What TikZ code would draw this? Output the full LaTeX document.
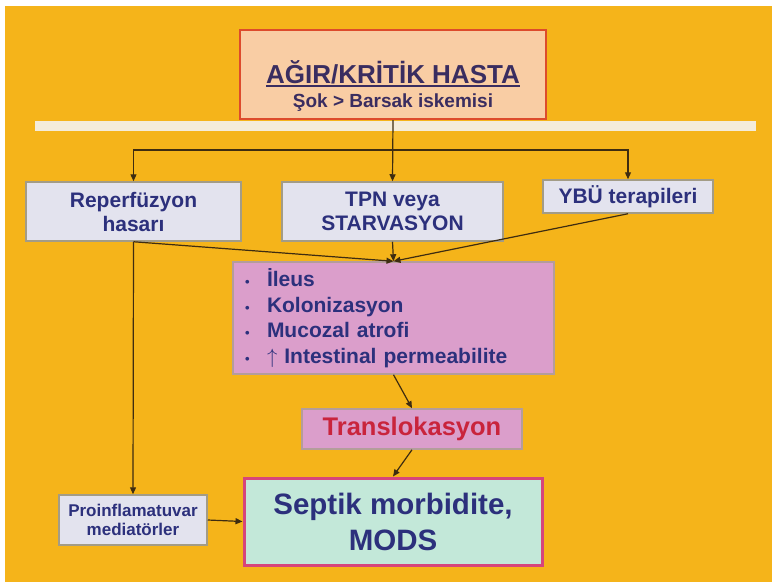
\documentclass[tikz,border=0pt]{standalone}
\usepackage{fontspec}
\setmainfont{Liberation Sans}
\usepackage{xcolor}
\usepackage{tikz}
\usetikzlibrary{arrows.meta}

\definecolor{bgorange}{HTML}{F5B41A}
\definecolor{barcream}{HTML}{F4ECDA}
\definecolor{peach}{HTML}{F9CDA4}
\definecolor{redline}{HTML}{DD4B2C}
\definecolor{lavender}{HTML}{E3E3EE}
\definecolor{greyline}{HTML}{A39C86}
\definecolor{orchid}{HTML}{DB9ECB}
\definecolor{mint}{HTML}{C3E8D9}
\definecolor{magentaline}{HTML}{D6457B}
\definecolor{navytext}{HTML}{2C307C}
\definecolor{titletext}{HTML}{3A2D60}
\definecolor{redtext}{HTML}{C9243C}
\definecolor{wire}{HTML}{3E2C10}

\newcommand{\blt}{\makebox[22pt][l]{\fontsize{13}{13}\selectfont\textbullet}}
\newcommand{\thickul}[1]{\setbox0\hbox{#1}\rlap{\rule[-3.5pt]{\wd0}{1.8pt}}\box0}

\begin{document}
\begin{tikzpicture}[x=1pt, y=-1pt,
    topbox/.style={draw=redline, line width=2pt, fill=peach, minimum width=306pt, minimum height=89pt},
    greybox/.style={draw=greyline, line width=1.5pt, fill=lavender, text=navytext, align=center, inner sep=0pt, font=\bfseries\fontsize{21}{24}\selectfont},
    pinkbox/.style={draw=greyline!70!orchid, line width=1.5pt, fill=orchid, inner sep=0pt},
    septbox/.style={draw=magentaline, line width=3pt, fill=mint, text=navytext, align=center, inner sep=0pt, font=\bfseries\fontsize{29.5}{36}\selectfont},
    conn/.style={wire, line width=1.2pt, -{Triangle[length=7pt, width=6pt]}}
]
% ---- Background ----
\useasboundingbox (0,0) rectangle (772,582);
\fill[white] (0,0) rectangle (772,582);
\fill[bgorange] (5,6) rectangle (772,582);
\fill[barcream] (35,121) rectangle (756,131);

% ---- Patient (top) ----
\node[topbox] (hasta) at (393,74.5) {};
\node[text=titletext, align=center, font=\bfseries\fontsize{26}{24}\selectfont] (hastatext) at (393,86)
    {\thickul{AĞIR/KRİTİK HASTA}\\{\fontsize{19}{24}\selectfont Şok > Barsak iskemisi}};

% ---- Causes ----
\node[greybox, minimum width=215pt, minimum height=59pt] (reperfuzyon) at (133.5,211.5) {Reperfüzyon\\hasarı};
\node[greybox, minimum width=221pt, minimum height=59pt] (tpn) at (392.5,211.5) {TPN veya\\STARVASYON};
\node[greybox, minimum width=170pt, minimum height=33pt] (ybu) at (628,196.5) {YBÜ terapileri};

% ---- Gut effects ----
\node[pinkbox, minimum width=321pt, minimum height=112pt, inner xsep=12pt, text width=297pt, align=left,
      text=navytext, font=\bfseries\fontsize{21}{25.5}\selectfont] (etkiler) at (393.5,318)
    {\blt İleus\\\blt Kolonizasyon\\\blt Mucozal atrofi\\\blt $\uparrow$ Intestinal permeabilite};
\node[pinkbox, minimum width=220pt, minimum height=40pt, text=redtext, font=\bfseries\fontsize{25.5}{28}\selectfont] (trans) at (412,429) {Translokasyon};

% ---- Outcome ----
\node[septbox, minimum width=298pt, minimum height=87pt] (septik) at (393,521.5) {Septik morbidite,\\MODS};
\node[greybox, minimum width=148pt, minimum height=50pt, font=\bfseries\fontsize{17}{19}\selectfont] (proinf) at (133,520) {Proinflamatuvar\\mediatörler};

% ---- Connectors ----
\coordinate (split) at (393,150);
\draw[conn] (hasta.south) -- (tpn.north);
\draw[conn] (split) -| (reperfuzyon.north);
\draw[conn] (split) -| (ybu.north);
\draw[conn] (reperfuzyon.south) -- (etkiler.north);
\draw[conn] (tpn.south) -- (etkiler.north);
\draw[conn] (ybu.south) -- (etkiler.north);
\draw[conn] (reperfuzyon.south) -- (proinf.north);
\draw[conn] (etkiler.south) -- (trans.north);
\draw[conn] (trans.south) -- (septik.north);
\draw[conn] (proinf.east) -- (septik.west);

\end{tikzpicture}
\end{document}
